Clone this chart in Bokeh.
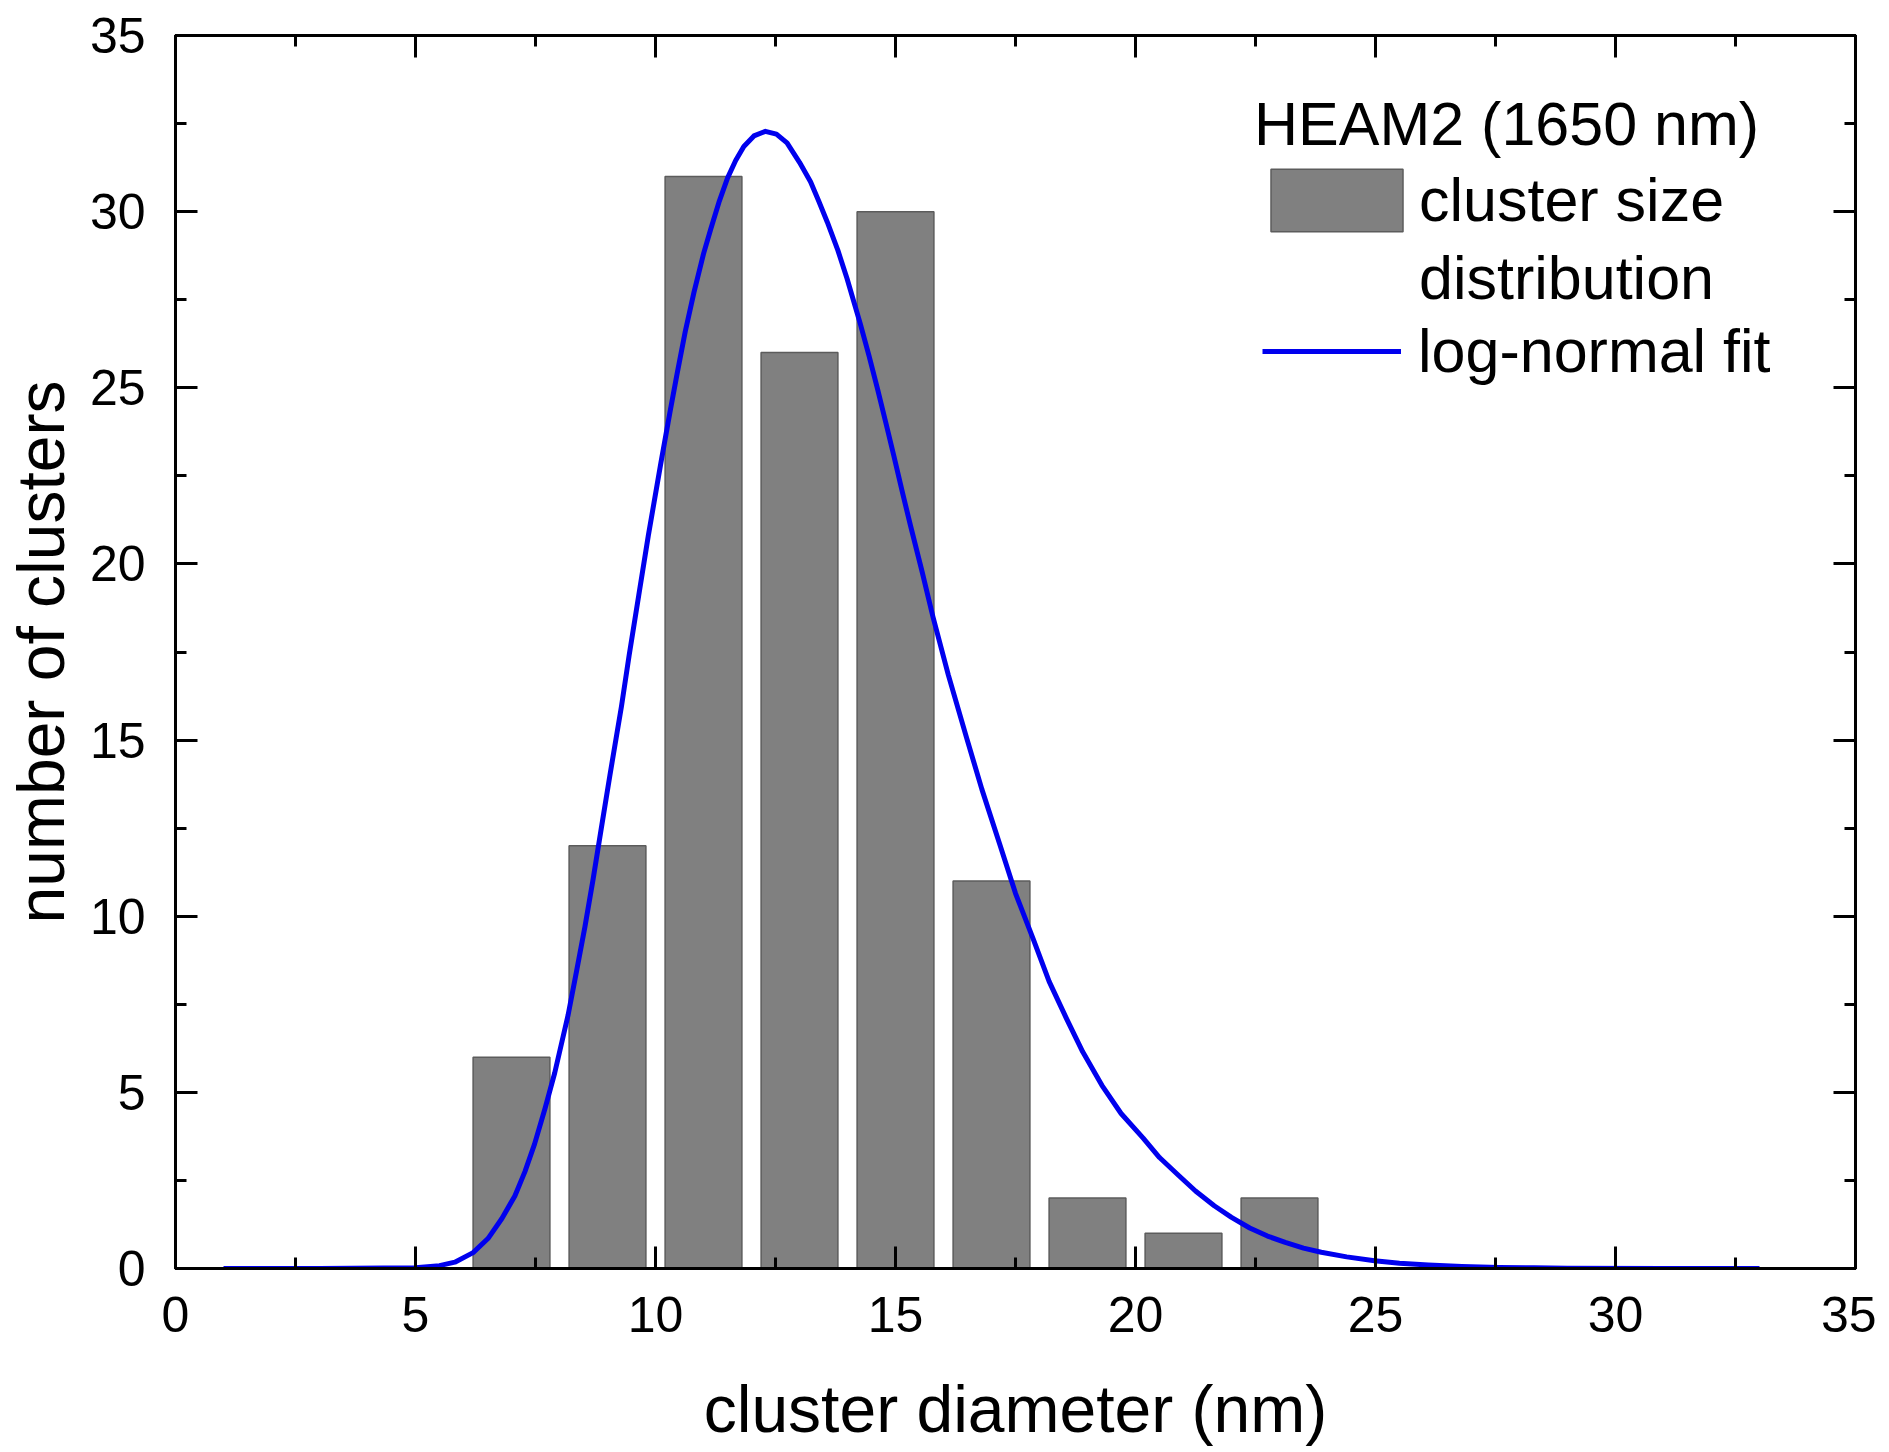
from bokeh.plotting import figure
from bokeh.models import (LinearAxis, Range1d, Legend, LegendItem,
                          SingleIntervalTicker, CustomJSTickFormatter)
from bokeh.embed import file_html
from bokeh.resources import INLINE

# ---- data ----
bin_centers = [7, 9, 11, 13, 15, 17, 19, 21, 23]
counts = [6, 12, 31, 26, 30, 11, 2, 1, 2]

fit_x = [1.0, 3.0, 5.0, 5.5, 5.82, 6.2, 6.51, 6.8, 7.07, 7.28,
         7.48, 7.7, 7.9, 8.18, 8.35, 8.53, 8.7, 8.87, 9.05, 9.29,
         9.45, 9.65, 9.85, 10.11, 10.3, 10.45, 10.62, 10.8, 11.0, 11.15,
         11.33, 11.5, 11.67, 11.84, 12.05, 12.29, 12.52, 12.74, 13.0, 13.23,
         13.4, 13.58, 13.8, 13.99, 14.27, 14.45, 14.62, 14.8, 14.96, 15.15,
         15.31, 15.55, 15.78, 16.1, 16.48, 16.8, 17.17, 17.5, 17.87, 18.2,
         18.56, 18.9, 19.3, 19.7, 20.16, 20.5, 20.9, 21.25, 21.64, 22.0,
         22.38, 22.75, 23.12, 23.5, 23.87, 24.4, 24.98, 25.5, 26.1, 26.8,
         27.58, 28.3, 29.0, 31.0, 33.0]
fit_y = [0.0, 0.0, 0.02, 0.08, 0.18, 0.45, 0.85, 1.42, 2.06, 2.75,
         3.53, 4.55, 5.55, 7.2, 8.4, 9.7, 11.05, 12.49, 14.0, 15.95,
         17.4, 19.1, 20.8, 22.85, 24.3, 25.4, 26.6, 27.7, 28.8, 29.5,
         30.3, 30.95, 31.45, 31.85, 32.15, 32.28, 32.2, 31.95, 31.4, 30.85,
         30.3, 29.7, 28.9, 28.1, 26.8, 25.9, 25.0, 24.0, 23.1, 22.0,
         21.1, 19.8, 18.5, 16.85, 15.07, 13.6, 12.05, 10.65, 9.35, 8.15,
         7.1, 6.15, 5.2, 4.4, 3.7, 3.15, 2.64, 2.2, 1.78, 1.45,
         1.15, 0.92, 0.74, 0.58, 0.46, 0.33, 0.22, 0.15, 0.1, 0.06,
         0.03, 0.02, 0.01, 0.0, 0.0]

x_label = "cluster diameter (nm)"
y_label = "number of clusters"
legend_title = "HEAM2 (1650 nm)"
bar_label_1 = "cluster size"
bar_label_2 = "distribution"
fit_label = "log-normal fit"

FONT = "Liberation Sans"

p = figure(frame_width=1680, frame_height=1233,
           x_range=Range1d(0, 35), y_range=Range1d(0, 35),
           output_backend="svg", toolbar_location=None,
           min_border_left=172, min_border_right=21,
           min_border_top=35, min_border_bottom=180,
           x_axis_label=x_label, y_axis_label=y_label)
p.grid.visible = False
p.outline_line_color = "black"
p.outline_line_width = 3
p.background_fill_color = "white"
p.border_fill_color = "white"

bars = p.vbar(x=bin_centers, top=counts, width=1.6, bottom=0,
              fill_color="#808080", line_color="#5c5c5c", line_width=1.5)
fit = p.line(fit_x, fit_y, line_color="#0000ee", line_width=5, line_join="round")
spacer = p.line(x=[], y=[], line_alpha=0)


def style_axis(ax, with_labels=True):
    ax.ticker = SingleIntervalTicker(interval=5, num_minor_ticks=2)
    ax.axis_line_width = 3
    ax.axis_line_color = "black"
    ax.major_tick_line_width = 3
    ax.minor_tick_line_width = 3
    ax.major_tick_in = 22
    ax.major_tick_out = 0
    ax.minor_tick_in = 11
    ax.minor_tick_out = 0
    ax.major_label_text_font = FONT
    ax.major_label_text_color = "black"
    if with_labels:
        ax.major_label_text_font_size = "50px"
    else:
        ax.major_label_text_font_size = "0px"
        ax.major_label_standoff = 0
        ax.formatter = CustomJSTickFormatter(code="return ''")
    ax.axis_label_text_font = FONT
    ax.axis_label_text_font_size = "66px"
    ax.axis_label_text_font_style = "normal"
    ax.axis_label_text_color = "black"


xa = p.xaxis[0]
ya = p.yaxis[0]
style_axis(xa)
style_axis(ya)
xa.major_label_standoff = 28
xa.axis_label_standoff = 37
ya.major_label_standoff = 30
ya.axis_label_standoff = 9

top_ax = LinearAxis()
right_ax = LinearAxis()
style_axis(top_ax, with_labels=False)
style_axis(right_ax, with_labels=False)
p.add_layout(top_ax, "above")
p.add_layout(right_ax, "right")

legA = Legend(items=[LegendItem(label=bar_label_1, renderers=[bars]),
                     LegendItem(label=bar_label_2, renderers=[spacer])],
              title=legend_title, location=(1079, 951),
              glyph_width=165, glyph_height=78, label_standoff=0,
              spacing=0, padding=0, margin=0, title_standoff=2)
legB = Legend(items=[LegendItem(label=fit_label, renderers=[fit])],
              location=(1087, 882),
              glyph_width=139, glyph_height=70, label_standoff=17,
              spacing=0, padding=0, margin=0)
for lg in (legA, legB):
    lg.label_text_font = FONT
    lg.label_text_font_size = "61px"
    lg.label_text_color = "black"
    lg.title_text_font = FONT
    lg.title_text_font_size = "61px"
    lg.title_text_font_style = "normal"
    lg.title_text_color = "black"
    lg.border_line_alpha = 0
    lg.background_fill_alpha = 0
    p.add_layout(lg)

open("out.html", "w").write(file_html(p, INLINE))
